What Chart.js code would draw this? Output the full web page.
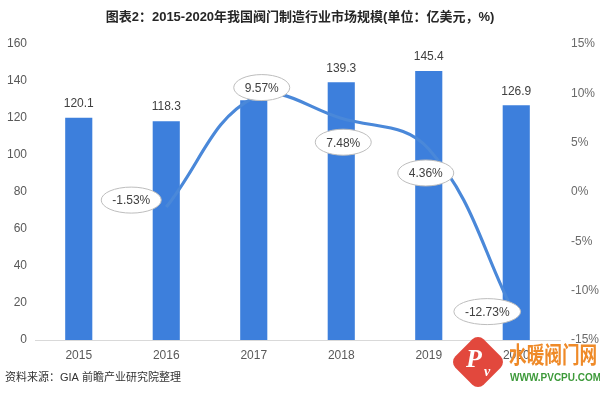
<!DOCTYPE html>
<html><head><meta charset="utf-8">
<script src="https://cdn.jsdelivr.net/npm/chart.js@4.4.0/dist/chart.umd.min.js"></script>
<style>html,body{margin:0;padding:0;background:#fff;}#wrap{width:600px;height:395px;position:relative;}</style>
</head><body><div id="wrap"><canvas id="c" width="600" height="395"></canvas></div>
<script>
const years = ['2015','2016','2017','2018','2019','2020'];
const marketSize = [120.1, 118.3, 129.6, 139.3, 145.4, 126.9];
const growthRate = [null, -1.53, 9.57, 7.48, 4.36, -12.73];
const growthLabels = ['', '-1.53%', '9.57%', '7.48%', '4.36%', '-12.73%'];
const titleText = '图表2：2015-2020年我国阀门制造行业市场规模(单位：亿美元，%)';
const sourceText = '资料来源：GIA 前瞻产业研究院整理';

const FONT = '"Liberation Sans", "Noto Sans CJK SC", sans-serif';
// label offsets relative to each line point (style only)
const labelOffsets = [[0,0],[-35,-7],[8,-10],[2,24],[-3,24],[-29,-6]];

const decor = {
  id: 'decor',
  afterDatasetsDraw(chart) {
    const ctx = chart.ctx;
    const barMeta = chart.getDatasetMeta(0);
    const lineMeta = chart.getDatasetMeta(1);
    ctx.save();
    ctx.font = '12px ' + FONT;
    ctx.fillStyle = '#404040';
    ctx.textAlign = 'center';
    ctx.textBaseline = 'middle';
    barMeta.data.forEach((b, i) => {
      ctx.fillText(marketSize[i].toFixed(1), b.x, b.y - 14);
    });
    lineMeta.data.forEach((p, i) => {
      if (growthRate[i] === null) return;
      const t = growthLabels[i];
      const w = ctx.measureText(t).width + 22;
      const h = 26;
      const cx = p.x + labelOffsets[i][0];
      const cy = p.y + labelOffsets[i][1];
      ctx.beginPath();
      ctx.ellipse(cx, cy, w / 2, h / 2, 0, 0, Math.PI * 2);
      ctx.fillStyle = '#ffffff';
      ctx.fill();
      ctx.strokeStyle = '#bdbdbd';
      ctx.lineWidth = 1;
      ctx.stroke();
      ctx.fillStyle = '#404040';
      ctx.fillText(t, cx, cy + 1);
    });
    ctx.restore();
  },
  afterDraw(chart) {
    const ctx = chart.ctx;
    ctx.save();
    ctx.textAlign = 'center';
    ctx.textBaseline = 'middle';
    ctx.font = 'bold 13px ' + FONT;
    ctx.fillStyle = '#262626';
    ctx.fillText(titleText, 300, 17);
    ctx.textAlign = 'left';
    ctx.font = '11px ' + FONT;
    ctx.fillStyle = '#333';
    ctx.fillText(sourceText, 5, 378);
    // logo
    ctx.save();
    ctx.translate(478, 362);
    ctx.rotate(Math.PI / 4);
    ctx.fillStyle = '#e2483d';
    const s = 40;
    ctx.beginPath();
    if (ctx.roundRect) ctx.roundRect(-s/2, -s/2, s, s, 8); else ctx.rect(-s/2,-s/2,s,s);
    ctx.fill();
    ctx.restore();
    ctx.fillStyle = '#fff';
    ctx.font = 'italic bold 26px "Liberation Serif", serif';
    ctx.textAlign = 'center';
    ctx.fillText('P', 474, 360);
    ctx.font = 'italic bold 14px "Liberation Serif", serif';
    ctx.fillText('v', 487, 372);
    ctx.save();
    ctx.fillStyle = '#ef8a28';
    ctx.font = 'bold 21px "Noto Sans CJK SC", sans-serif';
    ctx.textAlign = 'left';
    ctx.translate(509, 354);
    ctx.scale(0.84, 1.08);
    ctx.fillText('水暖阀门网', 0, 0);
    ctx.restore();
    ctx.fillStyle = '#3d9a3a';
    ctx.font = 'bold 10px ' + FONT;
    ctx.textAlign = 'left';
    ctx.fillText('WWW.PVCPU.COM', 510, 378);
    ctx.restore();
  }
};

new Chart(document.getElementById('c'), {
  data: {
    labels: years,
    datasets: [
      { type: 'bar', data: marketSize, yAxisID: 'y', backgroundColor: '#3d7fdc',
        barPercentage: 0.31, categoryPercentage: 1, order: 2 },
      { type: 'line', data: growthRate, yAxisID: 'y1', borderColor: '#4a88d9', borderWidth: 3.2,
        pointRadius: 0, tension: 0.4, fill: false, order: 1, spanGaps: false }
    ]
  },
  options: {
    responsive: false, devicePixelRatio: 1, animation: false,
    layout: { padding: { top: 44, bottom: 25, left: 0, right: 0 } },
    plugins: { legend: { display: false }, tooltip: { enabled: false }, title: { display: false } },
    scales: {
      x: {
        grid: { display: false, drawTicks: false }, border: { display: true, color: '#d9d9d9', width: 1 },
        ticks: { color: '#595959', font: { size: 12, family: FONT }, padding: 8 },
        afterFit(s) { s.height = 30; }
      },
      y: {
        position: 'left', min: 0, max: 160,
        grid: { display: false, drawTicks: false }, border: { display: false },
        ticks: { stepSize: 20, color: '#595959', font: { size: 12, family: FONT }, padding: 8 },
        afterFit(s) { s.width = 35; }
      },
      y1: {
        position: 'right', min: -15, max: 15,
        grid: { display: false, drawTicks: false }, border: { display: false },
        ticks: { stepSize: 5, color: '#6a6a6a', font: { size: 12, family: FONT }, padding: 11,
          callback: v => v + '%' },
        afterFit(s) { s.width = 40; }
      }
    }
  },
  plugins: [decor]
});
</script>
</body></html>
